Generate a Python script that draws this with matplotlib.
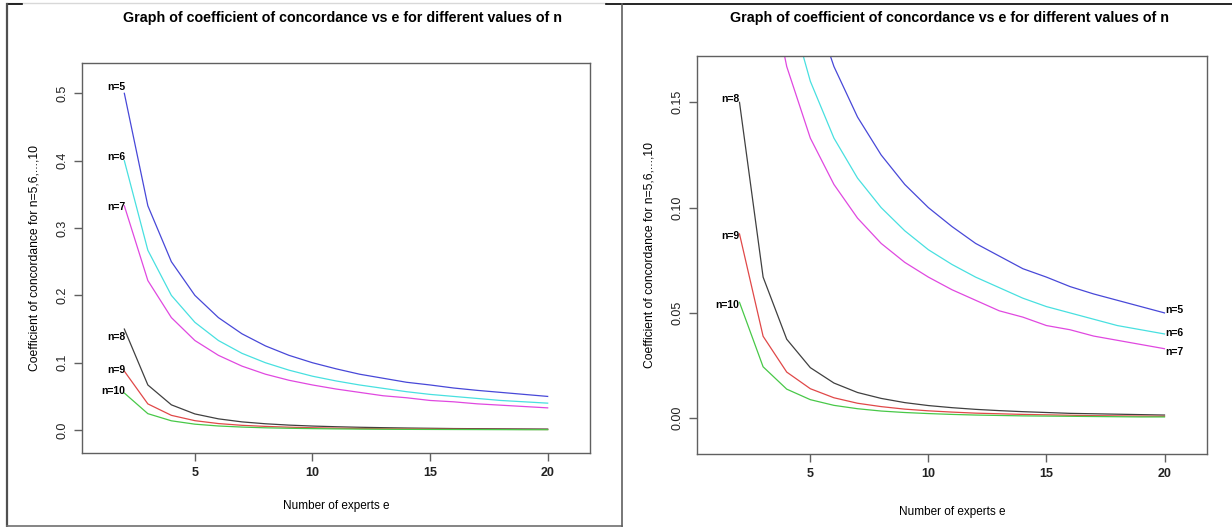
import matplotlib.pyplot as plt
from matplotlib.lines import Line2D

plt.rcParams['font.family'] = ['Liberation Sans', 'DejaVu Sans']

# number of experts
e = list(range(2, 21))

# coefficient of concordance, one list per n
n5 = [0.5, 0.333, 0.25, 0.2, 0.167, 0.143, 0.125, 0.111, 0.1, 0.091,
      0.083, 0.077, 0.071, 0.067, 0.0625, 0.059, 0.056, 0.053, 0.05]
n6 = [0.4, 0.267, 0.2, 0.16, 0.133, 0.114, 0.1, 0.089, 0.08, 0.073,
      0.067, 0.062, 0.057, 0.053, 0.05, 0.047, 0.044, 0.042, 0.04]
n7 = [0.333, 0.222, 0.167, 0.133, 0.111, 0.095, 0.083, 0.074, 0.067, 0.061,
      0.056, 0.051, 0.048, 0.044, 0.042, 0.039, 0.037, 0.035, 0.033]
n8 = [0.15, 0.067, 0.0375, 0.024, 0.0167, 0.0122, 0.0094, 0.0074, 0.006, 0.005,
      0.0042, 0.0036, 0.0031, 0.0027, 0.0023, 0.0021, 0.0019, 0.0017, 0.0015]
n9 = [0.0875, 0.0389, 0.0219, 0.014, 0.0097, 0.0071, 0.0055, 0.0043, 0.0035, 0.0029,
      0.0024, 0.0021, 0.0018, 0.0016, 0.0014, 0.0012, 0.0011, 0.001, 0.0009]
n10 = [0.055, 0.0244, 0.0138, 0.0088, 0.0061, 0.0045, 0.0034, 0.0027, 0.0022, 0.0018,
       0.0015, 0.0013, 0.0011, 0.001, 0.0009, 0.0008, 0.0007, 0.0006, 0.0006]

series = [('n=5', n5, '#4848d8'), ('n=6', n6, '#48e0e0'), ('n=7', n7, '#e048e0'),
          ('n=8', n8, '#404040'), ('n=9', n9, '#e04848'), ('n=10', n10, '#48c848')]

title = 'Graph of coefficient of concordance vs e for different values of n'
W, H = 1232, 527
fig = plt.figure(figsize=(W / 100, H / 100), dpi=100)


def px_axes(x0, y0, x1, y1):
    return fig.add_axes([x0 / W, 1 - y1 / H, (x1 - x0) / W, (y1 - y0) / H])


def style(ax, yticks, fmt):
    for s in ax.spines.values():
        s.set_color('#606060')
        s.set_linewidth(1)
    ax.set_xticks([5, 10, 15, 20])
    ax.set_yticks(yticks)
    ax.set_yticklabels([fmt % v for v in yticks], rotation=90, va='center')
    ax.tick_params(length=6, width=1, color='#606060', labelsize=9, pad=4,
                   labelcolor='#222222')
    for lab in ax.get_xticklabels():
        lab.set_fontweight('bold')
    ax.set_xlim(0.2, 21.8)


# left panel
ax0 = px_axes(82, 63, 590, 453)
for name, vals, col in series:
    ax0.plot(e, vals, color=col, lw=0.9)
style(ax0, [0.0, 0.1, 0.2, 0.3, 0.4, 0.5], '%.1f')
ax0.set_ylim(-0.034, 0.545)
left_labels = {'n=5': 0.509, 'n=6': 0.405, 'n=7': 0.331,
               'n=8': 0.138, 'n=9': 0.089, 'n=10': 0.058}
for name, y in left_labels.items():
    ax0.text(2.03, y, name, ha='right', va='center', fontsize=7.5, fontweight='bold')
ax0.set_xlabel('Number of experts e', fontsize=8.5, labelpad=15)
ax0.set_ylabel('Coefficient of concordance for n=5,6,...,10', fontsize=8.7, labelpad=11)
fig.text(343 / W, 1 - 18 / H, title, ha='center', va='center',
         fontsize=10.3, fontweight='bold')

# right panel (zoomed)
ax1 = px_axes(697, 56, 1207, 454)
for name, vals, col in series:
    ax1.plot(e, vals, color=col, lw=0.9)
style(ax1, [0.0, 0.05, 0.10, 0.15], '%.2f')
ax1.set_ylim(-0.017, 0.172)
for name, y in {'n=8': 0.1514, 'n=9': 0.0867, 'n=10': 0.0538}.items():
    ax1.text(2.0, y, name, ha='right', va='center', fontsize=7.5, fontweight='bold')
for name, y in {'n=5': 0.0514, 'n=6': 0.0405, 'n=7': 0.0314}.items():
    ax1.text(20.05, y, name, ha='left', va='center', fontsize=7.5, fontweight='bold')
ax1.set_xlabel('Number of experts e', fontsize=8.5, labelpad=19)
ax1.set_ylabel('Coefficient of concordance for n=5,6,...,10', fontsize=8.7, labelpad=11)
fig.text(950 / W, 1 - 18 / H, title, ha='center', va='center',
         fontsize=10.3, fontweight='bold')


# screenshot frames
def fline(x0, y0, x1, y1, color, lw):
    fig.add_artist(Line2D([x0 / W, x1 / W], [1 - y0 / H, 1 - y1 / H],
                          transform=fig.transFigure, color=color, lw=lw))


fline(7, 3, 606, 3, '#d8d8d8', 1)
fline(7, 4, 22, 4, 'black', 1.2)
fline(606, 4, 1232, 4, 'black', 1.2)
fline(7, 4, 7, 526, '#505050', 1.6)
fline(7, 526, 622, 526, '#707070', 1.2)
fline(622, 4, 622, 527, '#606060', 1.2)

fig.savefig('out.png', dpi=100)
